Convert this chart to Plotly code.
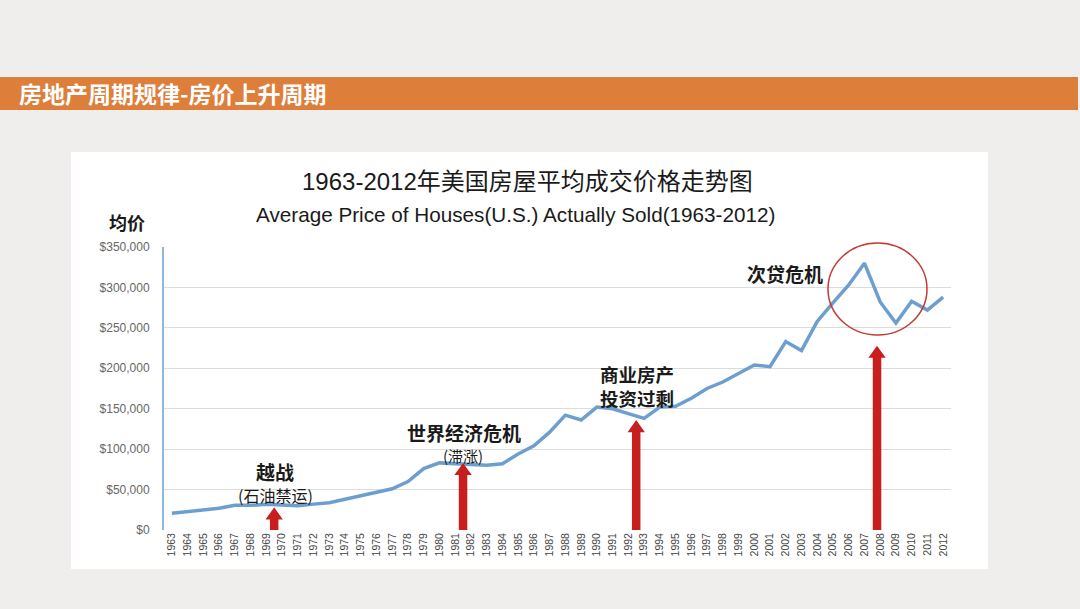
import plotly.graph_objects as go

# data
years = list(range(1963, 2013))
prices = [
    20600, 22600, 24700, 26800, 30500, 30500, 31700, 30500, 30000, 32000,
    33700, 38000, 42000, 47000, 51000, 60000, 76000, 83000, 82000, 82000,
    80000, 82000, 94000, 104000, 121000, 142000, 136000, 152000, 150000, 144000,
    138000, 152000, 153000, 163000, 175000, 183000, 193000, 204000, 202000, 233000,
    222000, 258000, 281000, 303000, 330000, 282000, 256000, 283000, 272000, 288000,
]
ytick_vals = [0, 50000, 100000, 150000, 200000, 250000, 300000, 350000]
ytick_text = ["$0", "$50,000", "$100,000", "$150,000", "$200,000",
              "$250,000", "$300,000", "$350,000"]

# arrows: year and value of the arrow tip
arrow_years = [1969.5, 1981.5, 1992.5, 2007.8]
arrow_tops = [28000, 83000, 136000, 228000]

# plot area in pixels
L, R, T, B = 164, 951, 247, 530
W, H = 1080, 609


def px(x):
    return (x - L) / (R - L)


def py(y):
    return (B - y) / (B - T)


fig = go.Figure()
fig.add_trace(go.Scatter(
    x=years, y=prices, mode="lines",
    line=dict(color="#6c9fd0", width=3.5),
    hoverinfo="skip", showlegend=False,
))

shapes = [
    # white panel
    dict(type="rect", xref="paper", yref="paper", layer="below",
         x0=px(71), x1=px(988), y0=py(569), y1=py(152),
         fillcolor="white", line=dict(width=0)),
    # orange header bar
    dict(type="rect", xref="paper", yref="paper", layer="below",
         x0=px(0), x1=px(1078), y0=py(110), y1=py(77),
         fillcolor="#dd7e3b", line=dict(width=0)),
    # circle round the crisis peak
    dict(type="circle", xref="paper", yref="paper",
         x0=px(828), x1=px(927), y0=py(335), y1=py(243),
         line=dict(color="#c23b32", width=1.5)),
]

head_h = 15000
head_w = 0.55
shaft_w = 0.27
for xa, top in zip(arrow_years, arrow_tops):
    shapes.append(dict(
        type="path", xref="x", yref="y", layer="above",
        path=(f"M {xa - shaft_w} 0 L {xa - shaft_w} {top - head_h} "
              f"L {xa - head_w} {top - head_h} L {xa} {top} "
              f"L {xa + head_w} {top - head_h} L {xa + shaft_w} {top - head_h} "
              f"L {xa + shaft_w} 0 Z"),
        fillcolor="#c81e1e", line=dict(width=0),
    ))

cjk = "Noto Sans CJK SC"


def label(text, x, y, size, bold=True, anchor="center", color="#1a1a1a", family=cjk):
    if bold:
        text = f"<b>{text}</b>"
    return dict(text=text, x=px(x), y=py(y), xref="paper", yref="paper",
                xanchor=anchor, yanchor="middle", showarrow=False,
                font=dict(family=family, size=size, color=color))


annotations = [
    label("房地产周期规律-房价上升周期", 17, 93, 23, anchor="left", color="white"),
    label("1963-2012年美国房屋平均成交价格走势图", 527, 182, 24, bold=False,
          family="Liberation Sans, " + cjk),
    label("Average Price of Houses(U.S.) Actually Sold(1963-2012)", 515, 214, 20.7,
          bold=False, family="Liberation Sans"),
    label("均价", 127, 222, 18),
    # event labels
    label("越战", 275, 471, 19),
    label("(石油禁运)", 275, 495, 16, bold=False),
    label("世界经济危机", 464, 432, 19),
    label("(滞涨)", 463, 455, 15, bold=False),
    label("商业房产", 637, 374, 18.5),
    label("投资过剩", 637, 398, 18.5),
    label("次贷危机", 785, 273, 19),
]

fig.update_layout(
    width=W, height=H,
    margin=dict(l=L, r=W - R, t=T, b=H - B),
    paper_bgcolor="#efeeec",
    plot_bgcolor="white",
    shapes=shapes,
    annotations=annotations,
    xaxis=dict(
        range=[1962.5, 2012.5], tickmode="array", tickvals=years,
        ticktext=[str(y) for y in years], tickangle=-90,
        tickfont=dict(family="Liberation Sans", size=10.5, color="#444444"),
        showgrid=False, zeroline=False, showline=False, ticks="",
    ),
    yaxis=dict(
        range=[0, 350000], tickmode="array", tickvals=ytick_vals,
        ticktext=ytick_text,
        tickfont=dict(family="Liberation Sans", size=12, color="#666666"),
        showgrid=True, gridcolor="#dcdcdc", gridwidth=1,
        zeroline=False, showline=True, linecolor="#8fb6df", linewidth=2,
        ticks="outside", ticklen=10, tickcolor="rgba(0,0,0,0)",
    ),
)

fig.write_html("out.html", config={"displayModeBar": False},
               post_script="document.body.style.margin='0';")
